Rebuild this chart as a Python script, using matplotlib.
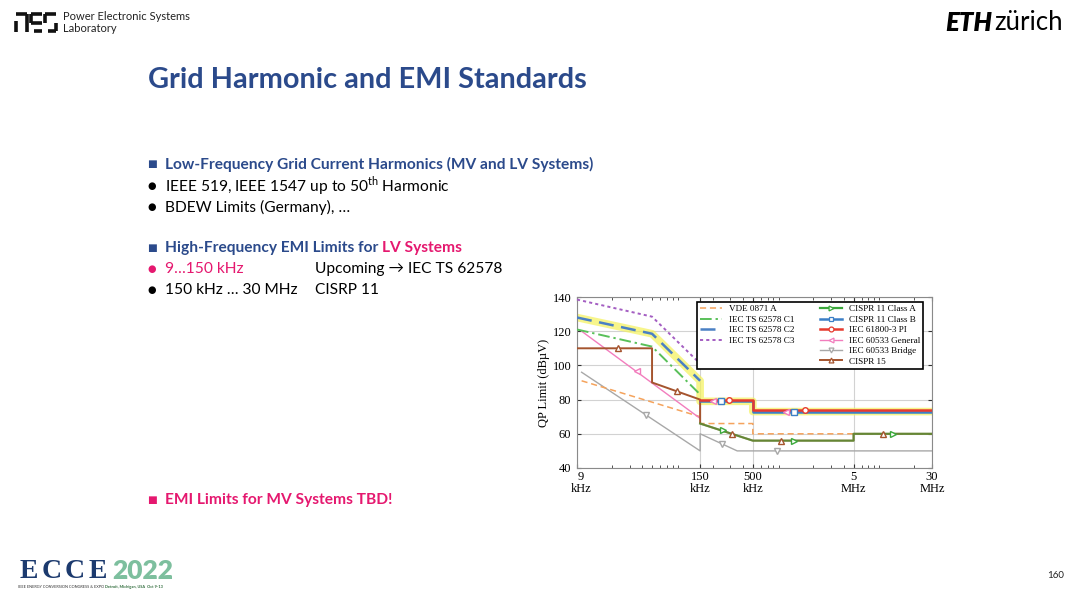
import matplotlib
matplotlib.use("Agg")
import matplotlib.pyplot as plt
import matplotlib.transforms as mtrans
from matplotlib.lines import Line2D
from matplotlib.ticker import FixedLocator, FixedFormatter, LogLocator, NullFormatter

# chart data: frequency (Hz) and QP limit (dBuV)
vde_f = [10e3, 150e3, 150e3, 500e3, 500e3, 30e6]
vde_v = [91, 70, 66, 66, 60, 60]

c1_f = [9e3, 50e3, 150e3]
c1_v = [121, 111, 83]
c2_f = [9e3, 50e3, 150e3]
c2_v = [128, 118.5, 91]
c3_f = [9e3, 50e3, 150e3]
c3_v = [138.5, 128.5, 101]

clA_f = [150e3, 500e3, 5e6, 5e6, 30e6]
clA_v = [66, 56, 56, 60, 60]
clB_f = [150e3, 500e3, 500e3, 30e6]
clB_v = [79, 79, 73, 73]
pi_f = [150e3, 500e3, 500e3, 30e6]
pi_v = [80, 80, 74, 74]
gen_f = [10e3, 150e3, 150e3, 500e3, 500e3, 30e6]
gen_v = [120, 69, 79, 79, 73, 73]
brg_f = [10e3, 150e3, 150e3, 350e3, 30e6]
brg_v = [96, 50, 60, 50, 50]
c15_f = [9e3, 50e3, 50e3, 150e3, 150e3, 500e3, 5e6, 5e6, 30e6]
c15_v = [110, 110, 90, 80, 66, 56, 56, 60, 60]

# marker positions on the curves
clA_mf = [254e3, 1.28e6, 12.3e6]
clA_mv = [62, 56, 60]
clB_mf = [240e3, 1.29e6]
clB_mv = [79, 73]
pi_mf = [293e3, 1.64e6]
pi_mv = [80, 74]
gen_mf = [35.5e3, 202e3, 1.07e6]
gen_mv = [96.5, 79, 73]
brg_mf = [43.7e3, 250e3, 860e3]
brg_mv = [71, 54, 50]
c15_mf = [23e3, 89e3, 312e3, 960e3, 9.9e6]
c15_mv = [110, 85, 60, 56, 60]

xticks = [9e3, 150e3, 500e3, 5e6, 30e6]
xtick_labels = ["9\nkHz", "150\nkHz", "500\nkHz", "5\nMHz", "30\nMHz"]
yticks = [40, 60, 80, 100, 120, 140]

NAVY = "#2B4A8B"
PINK = "#E5186F"
body = ["Lato", "DejaVu Sans"]
serif = ["Liberation Serif", "DejaVu Serif"]
FS = 11.2

fig = plt.figure(figsize=(10.8, 5.96), dpi=100)

# whole-slide axes in pixel coords
bg = fig.add_axes([0, 0, 1, 1])
bg.set_xlim(0, 1080)
bg.set_ylim(596, 0)
bg.axis("off")

# --- header ---
pes = [((16, 14), (27, 14)), ((27, 14), (27, 32)), ((16, 21), (16, 32)),
       ((31, 14), (42, 14)), ((31, 14), (31, 23)), ((31, 23), (42, 23)), ((34, 31), (42, 31)),
       ((45, 14), (56, 14)), ((45, 14), (45, 23)), ((48, 31), (56, 31)), ((56, 23), (56, 31))]
for (x0, y0), (x1, y1) in pes:
    bg.plot([x0, x1], [y0, y1], color="#111111", lw=2.6, solid_capstyle="butt")
bg.text(63, 17, "Power Electronic Systems", fontsize=8.0, family=body, va="center", color="#222222")
bg.text(63, 29, "Laboratory", fontsize=8.0, family=body, va="center", color="#222222")

eth = bg.text(945, 23, "ETH", fontsize=18.5, family=body, weight="heavy", style="italic", va="center")
bg.annotate("zürich", xy=(1, 0), xycoords=eth, va="bottom", ha="left", fontsize=18.5,
            family=body, xytext=(1.5, 0), textcoords="offset points")

bg.text(148, 80, "Grid Harmonic and EMI Standards", fontsize=20.8, family=body,
        weight="bold", color=NAVY, va="center")

# --- bullets ---
def square(y, color):
    bg.text(152, y, "■", fontsize=7.5, family=["DejaVu Sans"], color=color, va="center", ha="center")

def dot(y, color="black"):
    bg.text(152, y, "●", fontsize=7, family=["DejaVu Sans"], color=color, va="center", ha="center")

square(164, NAVY)
bg.text(165, 164, "Low-Frequency Grid Current Harmonics (MV and LV Systems)", fontsize=FS,
        family=body, weight="bold", color=NAVY, va="center")
dot(186)
plt.rcParams["mathtext.fontset"] = "custom"
plt.rcParams["mathtext.rm"] = "Lato"
bg.text(165, 186, r"IEEE 519, IEEE 1547 up to 50$^{\mathrm{th}}$ Harmonic", fontsize=FS,
        family=body, va="center")
dot(207)
bg.text(165, 207, "BDEW Limits (Germany), …", fontsize=FS, family=body, va="center")

square(248, NAVY)
t = bg.text(165, 248, "High-Frequency EMI Limits for ", fontsize=FS, family=body,
            weight="bold", color=NAVY, va="center")
bg.annotate("LV Systems", xy=(1, 0), xycoords=t, va="bottom", ha="left", fontsize=FS,
            family=body, weight="bold", color=PINK)
dot(269, PINK)
bg.text(165, 269, "9…150 kHz", fontsize=FS, family=body, color=PINK, va="center")
bg.text(315, 269, "Upcoming → IEC TS 62578", fontsize=FS, family=body, va="center")
dot(290)
bg.text(165, 290, "150 kHz … 30 MHz", fontsize=FS, family=body, va="center")
bg.text(315, 290, "CISRP 11", fontsize=FS, family=body, va="center")

square(500, PINK)
bg.text(165, 500, "EMI Limits for MV Systems TBD!", fontsize=FS, family=body,
        weight="bold", color=PINK, va="center")

# --- footer ---
for i, ch in enumerate("ECCE"):
    bg.text(29 + 23 * i, 571, ch, fontsize=20, family=serif, weight="bold", color="#1C3A6E",
            va="center", ha="center")
bg.text(112, 571, "2022", fontsize=19, family=body, weight="heavy", color="#7DBF9E", va="center")
bg.text(18, 587, "IEEE ENERGY CONVERSION CONGRESS & EXPO", fontsize=2.8, family=body,
        color="#333333", va="center")
bg.text(105, 587, "Detroit, Michigan, USA  Oct 9-13", fontsize=2.8, family=body,
        weight="bold", color="#2E6B3A", va="center")
bg.text(1064, 575, "160", fontsize=7, family=body, ha="right", va="center", color="#222222")

# --- chart ---
ax = fig.add_axes([577 / 1080, 1 - 468 / 596, 355 / 1080, 171 / 596])
ax.set_xscale("log")
ax.set_xlim(9e3, 30e6)
ax.set_ylim(40, 140)

styles = {
    "VDE 0871 A": dict(color="#F5A35C", ls=(0, (4, 2.5)), lw=1.1, marker=None),
    "IEC TS 62578 C1": dict(color="#59C059", ls=(0, (6, 2, 1.2, 2)), lw=1.4, marker=None),
    "IEC TS 62578 C2": dict(color="#4A80C4", ls=(0, (6, 3)), lw=1.8, marker=None),
    "IEC TS 62578 C3": dict(color="#A45EC2", ls=(0, (1.6, 1.6)), lw=1.4, marker=None),
    "CISPR 11 Class A": dict(color="#3BA83B", ls="-", lw=1.6, marker=">"),
    "CISPR 11 Class B": dict(color="#3C7FC6", ls="-", lw=1.8, marker="s"),
    "IEC 61800-3 PI": dict(color="#E63A2E", ls="-", lw=1.8, marker="o"),
    "IEC 60533 General": dict(color="#F27DBD", ls="-", lw=1.0, marker="<"),
    "IEC 60533 Bridge": dict(color="#A8A8A8", ls="-", lw=1.0, marker="v"),
    "CISPR 15": dict(color="#A5542E", ls="-", lw=1.4, marker="^"),
}

# yellow highlight along C2 and Class B
ax.plot(c2_f + clB_f, c2_v + clB_v, color="#F4F25A", lw=5.5, alpha=0.7,
        solid_joinstyle="round", zorder=1)

series = [
    ("IEC 60533 Bridge", brg_f, brg_v, brg_mf, brg_mv),
    ("VDE 0871 A", vde_f, vde_v, None, None),
    ("IEC 60533 General", gen_f, gen_v, gen_mf, gen_mv),
    ("IEC TS 62578 C1", c1_f, c1_v, None, None),
    ("IEC TS 62578 C3", c3_f, c3_v, None, None),
    ("IEC TS 62578 C2", c2_f, c2_v, None, None),
    ("CISPR 15", c15_f, c15_v, c15_mf, c15_mv),
    ("CISPR 11 Class A", clA_f, clA_v, clA_mf, clA_mv),
    ("CISPR 11 Class B", clB_f, clB_v, clB_mf, clB_mv),
    ("IEC 61800-3 PI", pi_f, pi_v, pi_mf, pi_mv),
]
for z, (name, f, v, mf, mv) in enumerate(series):
    st = styles[name]
    alpha = 0.6 if name == "CISPR 11 Class A" else 1.0
    ax.plot(f, v, color=st["color"], ls=st["ls"], lw=st["lw"], alpha=alpha, zorder=2 + z)
    if mf is not None:
        ax.plot(mf, mv, ls="none", marker=st["marker"], ms=4, mfc="white",
                mec=st["color"], mew=1.0, zorder=20 + z)

ax.xaxis.set_major_locator(FixedLocator(xticks))
ax.xaxis.set_major_formatter(FixedFormatter(xtick_labels))
ax.xaxis.set_minor_locator(LogLocator(base=10, subs=range(2, 10)))
ax.xaxis.set_minor_formatter(NullFormatter())
ax.set_yticks(yticks)
ax.grid(True, which="major", color="#d2d2d2", lw=0.8)
ax.set_axisbelow(True)
ax.tick_params(which="both", direction="in", top=True, right=True, color="#333333",
               labelsize=9, pad=2)
ax.tick_params(axis="y", pad=4)
ax.tick_params(which="major", length=3)
ax.tick_params(which="minor", length=2)
for lab in ax.get_xticklabels() + ax.get_yticklabels():
    lab.set_family(serif)
    lab.set_linespacing(1.0)
# the first x label sits a little right of the axis corner
first = ax.get_xticklabels()[0]
first.set_transform(first.get_transform() + mtrans.ScaledTranslation(4 / 100, 0, fig.dpi_scale_trans))
for sp in ax.spines.values():
    sp.set_color("#8a8a8a")
    sp.set_linewidth(0.8)
ax.set_ylabel("QP Limit (dBµV)", fontsize=9, family=serif, labelpad=2)

# legend: 4 entries left column, 6 right column
order = ["VDE 0871 A", "IEC TS 62578 C1", "IEC TS 62578 C2", "IEC TS 62578 C3", None, None,
         "CISPR 11 Class A", "CISPR 11 Class B", "IEC 61800-3 PI", "IEC 60533 General",
         "IEC 60533 Bridge", "CISPR 15"]
handles, labels = [], []
for name in order:
    if name is None:
        handles.append(Line2D([], [], color="none"))
        labels.append("")
        continue
    st = styles[name]
    handles.append(Line2D([], [], color=st["color"], ls=st["ls"], lw=st["lw"],
                          marker=st["marker"], ms=3.5, mfc="white", mec=st["color"], mew=0.9))
    labels.append(name)
leg = ax.legend(handles, labels, ncol=2, loc="upper left", mode="expand",
                bbox_to_anchor=(0.338, 0.5, 0.637, 0.472),
                borderaxespad=0, prop={"family": serif, "size": 6.6}, handlelength=2.4,
                columnspacing=1.6, labelspacing=0.22, handletextpad=0.7, borderpad=0.35,
                fancybox=False, framealpha=1, edgecolor="black")
leg.get_frame().set_linewidth(1.2)
leg.set_zorder(50)

fig.savefig("out.png", dpi=100)
